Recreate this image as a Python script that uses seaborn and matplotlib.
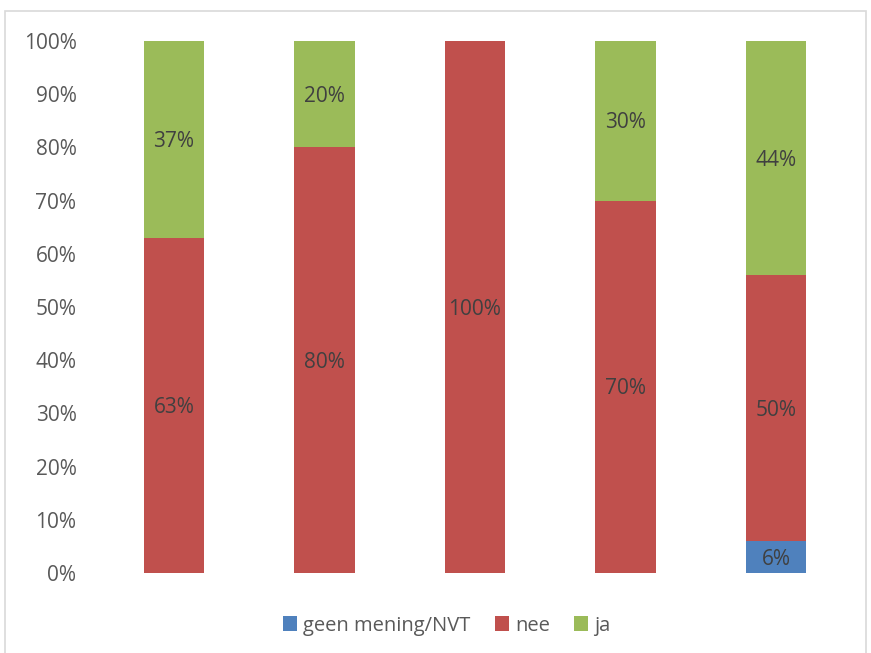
import numpy as np
import pandas as pd
import matplotlib
matplotlib.use("Agg")
import matplotlib.pyplot as plt
import seaborn as sns
from matplotlib.patches import Rectangle, Patch

# Survey answers per group (percent)
groups = ["1", "2", "3", "4", "5"]
geen_mening = [0, 0, 0, 0, 6]
nee = [63, 80, 100, 70, 50]
ja = [37, 20, 0, 30, 44]
series_names = ["geen mening/NVT", "nee", "ja"]
colors = ["#4F81BD", "#C0504D", "#9BBB59"]
ytick_vals = [0, 10, 20, 30, 40, 50, 60, 70, 80, 90, 100]

sns.set_theme(style="white")
plt.rcParams["font.family"] = ["Open Sans", "DejaVu Sans"]

fig = plt.figure(figsize=(8.71, 6.53), dpi=100)
ax = fig.add_axes([0.1133, 0.1225, 0.8641, 0.8147])

geen_arr = np.array(geen_mening)
nee_arr = np.array(nee)
ja_arr = np.array(ja)
cum_geen = geen_arr
cum_nee = geen_arr + nee_arr
cum_ja = cum_nee + ja_arr

df = pd.DataFrame({"groep": groups, "geen": cum_geen, "nee": cum_nee, "ja": cum_ja})

# Layered cumulative bars: tallest first so shorter ones sit on top
for col, color in [("ja", colors[2]), ("nee", colors[1]), ("geen", colors[0])]:
    sns.barplot(data=df, x="groep", y=col, color=color, width=0.4,
                saturation=1, ax=ax, linewidth=0, errorbar=None)

# Segment value labels
for i in range(len(groups)):
    bottoms = [0, cum_geen[i], cum_nee[i]]
    vals = [geen_arr[i], nee_arr[i], ja_arr[i]]
    for b, v in zip(bottoms, vals):
        if v > 0:
            ax.text(i, b + v / 2 - 0.4, f"{v}%", ha="center", va="center",
                    fontsize=15, color="#404040")

ax.set_ylim(0, 100)
ax.set_xlim(-0.5, len(groups) - 0.5)
ax.set_yticks(ytick_vals)
ax.set_yticklabels([f"{v}%" for v in ytick_vals], fontsize=15, color="#595959")
ax.set_xticks([])
ax.set_xlabel("")
ax.set_ylabel("")
ax.tick_params(axis="y", length=0, pad=16)
for s in ax.spines.values():
    s.set_visible(False)

handles = [Patch(facecolor=c, edgecolor="none") for c in colors]
fig.legend(handles, series_names, loc="center", bbox_to_anchor=(0.513, 0.042),
           ncol=3, frameon=False, fontsize=14.5, handlelength=0.7, handleheight=0.7,
           handletextpad=0.3, columnspacing=1.2, labelcolor="#595959")

# Chart frame
fig.patches.append(Rectangle((5 / 871, -0.01), 861 / 871, 1 - 11 / 653 + 0.01,
                             transform=fig.transFigure, fill=False,
                             edgecolor="#D9D9D9", linewidth=1.2))

fig.savefig("out.png", dpi=100)
